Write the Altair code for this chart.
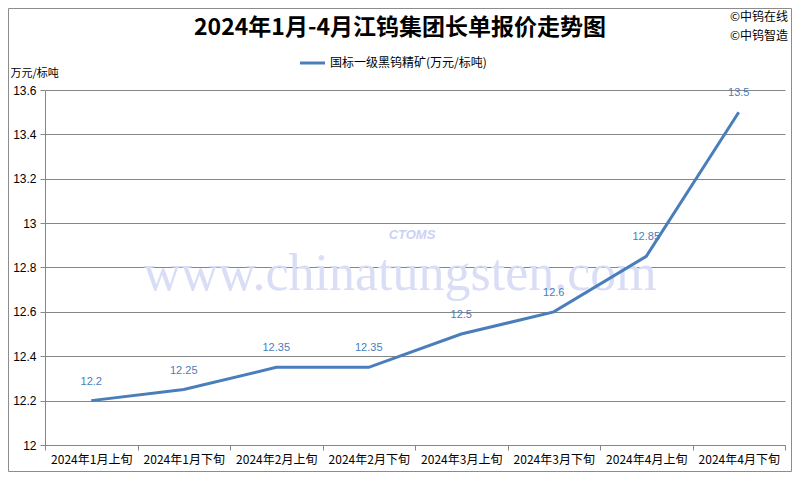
import altair as alt
import pandas as pd

categories = ["2024年1月上旬", "2024年1月下旬", "2024年2月上旬", "2024年2月下旬",
              "2024年3月上旬", "2024年3月下旬", "2024年4月上旬", "2024年4月下旬"]
values = [12.2, 12.25, 12.35, 12.35, 12.5, 12.6, 12.85, 13.5]
labels = ["12.2", "12.25", "12.35", "12.35", "12.5", "12.6", "12.85", "13.5"]
y_ticks = [12.0, 12.2, 12.4, 12.6, 12.8, 13.0, 13.2, 13.4, 13.6]
title_text = "2024年1月-4月江钨集团长单报价走势图"
series_name = "国标一级黑钨精矿(万元/标吨)"
y_unit = "万元/标吨"
copyright_lines = ["©中钨在线", "©中钨智造"]
watermark = "www.chinatungsten.com"
logo_text = "CTOMS"

FONT = "Noto Sans CJK SC"
BLUE = "#4a7ebb"
GRID = "#868686"

df = pd.DataFrame({"period": categories, "price": values, "label": labels})

x_enc = alt.X(
    "period:N", sort=categories,
    scale=alt.Scale(type="band", paddingInner=0, paddingOuter=0),
    axis=alt.Axis(title=None, labelAngle=0, tickBand="extent", ticks=True, tickSize=5,
                  domainColor=GRID, tickColor=GRID, labelFontSize=12, labelColor="black",
                  labelFont=FONT, labelPadding=4, grid=False),
)
y_enc = alt.Y(
    "price:Q",
    scale=alt.Scale(domain=[12, 13.6], nice=False, zero=False),
    axis=alt.Axis(values=y_ticks, format=".3~g", grid=True, gridColor=GRID,
                  domainColor=GRID, tickColor=GRID, tickSize=5,
                  labelFontSize=12, labelColor="black", labelFont="Liberation Sans", labelPadding=4,
                  title=y_unit, titleAngle=0, titleX=-35, titleY=-17, titleAlign="left",
                  titleBaseline="middle", titleFontSize=11, titleFontWeight="normal",
                  titleFont=FONT, titleColor="black"),
)

one = pd.DataFrame({"k": [0]})


def label_text(txt, x, y, **kw):
    return alt.Chart(pd.DataFrame({"t": [txt]})).mark_text(**kw).encode(
        x=alt.value(x), y=alt.value(y), text="t:N")


wm = label_text(watermark, 355, 200, font="Liberation Serif", fontSize=52, color="#d9ddf6",
                align="center", baseline="alphabetic")
logo = label_text(logo_text, 367, 145, font="Liberation Sans", fontSize=13, fontWeight="bold",
                  fontStyle="italic", color="#ccd1f4", align="center", baseline="middle")

line = alt.Chart(df).mark_line(color=BLUE, strokeWidth=3).encode(x=x_enc, y=y_enc)

lbl = alt.Chart(df).mark_text(dy=-19, fontSize=11, color=BLUE, font="Liberation Sans",
                              baseline="middle").encode(
    x=alt.X("period:N", sort=categories), y=alt.Y("price:Q"), text="label:N")

title = label_text(title_text, 355, -62, font=FONT, fontSize=23, fontWeight="bold",
                   color="black", align="center", baseline="middle")
cp1 = label_text(copyright_lines[0], 743, -73, font=FONT, fontSize=12, color="black",
                 align="right", baseline="middle")
cp2 = label_text(copyright_lines[1], 743, -54, font=FONT, fontSize=12, color="black",
                 align="right", baseline="middle")

leg_line = alt.Chart(one).mark_rule(color=BLUE, strokeWidth=3).encode(
    x=alt.value(255), x2=alt.value(280), y=alt.value(-27))
leg_text = label_text(series_name, 285, -27, font=FONT, fontSize=12, color="black",
                      align="left", baseline="middle")

border = alt.Chart(one).mark_rect(fill="transparent", stroke="#8c8c8c", strokeWidth=1).encode(
    x=alt.value(-36.5), x2=alt.value(746.5), y=alt.value(-81.5), y2=alt.value(381.5))

chart = alt.layer(wm, logo, line, lbl, title, cp1, cp2, leg_line, leg_text, border).properties(
    width=740, height=355,
    autosize=alt.AutoSizeParams(type="none"),
    padding={"left": 37, "top": 82, "right": 7, "bottom": 27},
    background="white",
).configure_view(stroke=None)

chart.save("out.html", embed_options={"renderer": "svg", "actions": False})
